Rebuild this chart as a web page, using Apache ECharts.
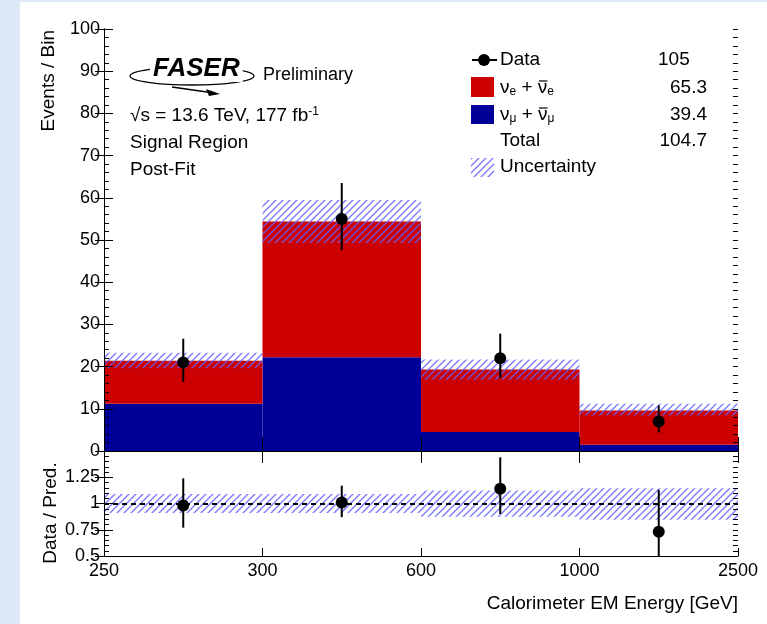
<!DOCTYPE html>
<html>
<head>
<meta charset="utf-8">
<script src="https://cdn.jsdelivr.net/npm/echarts@6/dist/echarts.min.js"></script>
<style>
  html, body { margin: 0; padding: 0; background: #dde9f6; }
  #panel { position: absolute; left: 20px; top: 2px; width: 747px; height: 622px; background: #fff; }
  #main { position: absolute; left: 0; top: 0; width: 767px; height: 624px; }
</style>
</head>
<body>
<div id="panel"></div>
<div id="main"></div>
<script>
// bin edges of the calorimeter energy histogram (GeV), equal-width on the plot
const binEdges = ['250', '300', '600', '1000', '2500'];

// stacked post-fit prediction per bin
const numuYield = [11.2, 22.2, 4.5, 1.5];
const nueYield = [10.2, 32.2, 14.8, 8.1];
// uncertainty band on the total
const uncLow = [19.6, 49.3, 16.9, 8.4];
const uncHigh = [23.3, 59.5, 21.7, 11.2];

// observed data with asymmetric poisson errors
const dataCounts = [21, 55, 22, 7];
const dataErrUp = [5.6, 8.5, 5.8, 3.8];
const dataErrDown = [4.6, 7.4, 4.7, 2.6];

// ratio panel
const ratio = [0.98, 1.01, 1.14, 0.73];
const ratioErrUp = [0.26, 0.16, 0.30, 0.40];
const ratioErrDown = [0.21, 0.14, 0.24, 0.27];
const ratioUncLow = [0.91, 0.91, 0.875, 0.845];
const ratioUncHigh = [1.09, 1.09, 1.125, 1.145];

// numbers printed in the legend
const legendYields = ['105', '65.3', '39.4', '104.7'];

const FONT = 'Liberation Sans, Arial, Helvetica, sans-serif';
const RED = '#cc0000';
const BLUE = '#000099';

// diagonal hatch used for the uncertainty band
function makeHatch() {
    const c = document.createElement('canvas');
    c.width = 7;
    c.height = 7;
    const ctx = c.getContext('2d');
    ctx.strokeStyle = 'rgba(100, 100, 255, 0.85)';
    ctx.lineWidth = 1.4;
    ctx.beginPath();
    ctx.moveTo(-1, 8); ctx.lineTo(8, -1);
    ctx.moveTo(-1, 1); ctx.lineTo(1, -1);
    ctx.moveTo(6, 8); ctx.lineTo(8, 6);
    ctx.stroke();
    return c;
}
const hatch = { image: makeHatch(), repeat: 'repeat' };

// rect spanning bin i from value(1) to value(2)
function binRect(fill) {
    return function (params, api) {
        const i = api.value(0);
        const p0 = api.coord([i, api.value(1)]);
        const p1 = api.coord([i + 1, api.value(2)]);
        return {
            type: 'rect',
            shape: { x: p0[0], y: p1[1], width: p1[0] - p0[0], height: p0[1] - p1[1] },
            style: { fill: fill }
        };
    };
}

// marker + vertical error bar, clamped to the grid
function errPoint(params, api) {
    const x = api.value(0) + 0.5;
    const val = api.value(1);
    const c = api.coord([x, val]);
    const cs = params.coordSys;
    const top = Math.max(api.coord([x, val + api.value(2)])[1], cs.y);
    const bot = Math.min(api.coord([x, val - api.value(3)])[1], cs.y + cs.height);
    return {
        type: 'group',
        children: [
            { type: 'line', shape: { x1: c[0], y1: top, x2: c[0], y2: bot }, style: { stroke: '#000', lineWidth: 2 } },
            { type: 'circle', shape: { cx: c[0], cy: c[1], r: 6 }, style: { fill: '#000' } }
        ]
    };
}

const axisLine = { show: true, lineStyle: { color: '#000', width: 1 } };

function xAx(grid, pos, tickLen, labels) {
    return {
        type: 'value', gridIndex: grid, position: pos, min: 0, max: 4, interval: 1, z: 10,
        axisLine: axisLine,
        axisTick: { inside: true, length: tickLen, lineStyle: { color: '#000' } },
        splitLine: { show: false },
        axisLabel: labels ? {
            show: true, color: '#000', fontSize: 18, fontFamily: FONT, margin: 6,
            formatter: (v) => binEdges[v]
        } : { show: false }
    };
}

function yAx(grid, pos, min, max, interval, tickLen, labels, fmt) {
    return {
        type: 'value', gridIndex: grid, position: pos, min: min, max: max, interval: interval, z: 10,
        axisLine: tickLen > 5 ? axisLine : { show: false },
        axisTick: { inside: true, length: tickLen, lineStyle: { color: '#000' } },
        splitLine: { show: false },
        axisLabel: labels ? {
            show: true, color: '#000', fontSize: 18, fontFamily: FONT, margin: 4, formatter: fmt
        } : { show: false }
    };
}

function txt(x, y, text, size, extra) {
    return Object.assign({
        type: 'text', x: x, y: y,
        style: Object.assign({
            text: text, fill: '#000', font: size + 'px ' + FONT,
            textAlign: 'left', textVerticalAlign: 'middle'
        }, extra && extra.style)
    }, extra && extra.el);
}

// width of a piece of text, used to put the bar over the anti-neutrino
const measureCtx = document.createElement('canvas').getContext('2d');
function textWidth(s, size) {
    measureCtx.font = size + 'px ' + FONT;
    return measureCtx.measureText(s).width;
}

const nuRich = {
    n: { fontSize: 19, fontFamily: FONT, color: '#000' },
    b: { fontSize: 12, fontFamily: FONT, color: '#000', verticalAlign: 'bottom', padding: [8, 0, 0, 0] }
};

function nuLabel(x, y, flavour) {
    const barX = x + textWidth('ν', 19) + textWidth(flavour, 12) + textWidth(' + ', 19);
    const barW = textWidth('ν', 19);
    return [
        txt(x, y, '{n|ν}{b|' + flavour + '}{n| + ν}{b|' + flavour + '}', 19, { style: { rich: nuRich } }),
        { type: 'line', shape: { x1: barX + 1, y1: y - 7, x2: barX + barW, y2: y - 7 }, style: { stroke: '#000', lineWidth: 1.2 } }
    ];
}

const chart = echarts.init(document.getElementById('main'), null, { renderer: 'canvas' });

const option = {
    animation: false,
    grid: [
        { left: 104, top: 29, width: 634, height: 422 },
        { left: 104, top: 451, width: 634, height: 105 }
    ],
    xAxis: [
        xAx(0, 'bottom', 14, false),
        xAx(0, 'top', 12, false),
        xAx(1, 'bottom', 8, true),
        xAx(1, 'top', 4, false)
    ],
    yAxis: [
        yAx(0, 'left', 0, 100, 10, 9, true),
        yAx(0, 'right', 0, 100, 10, 9, false),
        yAx(1, 'left', 0.5, 1.5, 0.25, 9, true, (v) => (v === 1.5 ? '' : String(v))),
        yAx(1, 'right', 0.5, 1.5, 0.25, 9, false),
        // minor ticks
        yAx(0, 'left', 0, 100, 2, 5, false),
        yAx(0, 'right', 0, 100, 2, 5, false),
        yAx(1, 'left', 0.5, 1.5, 0.05, 5, false),
        yAx(1, 'right', 0.5, 1.5, 0.05, 5, false)
    ],
    series: [
        {
            name: 'numu', type: 'custom', xAxisIndex: 0, yAxisIndex: 0,
            renderItem: binRect(BLUE),
            data: numuYield.map((v, i) => [i, 0, v])
        },
        {
            name: 'nue', type: 'custom', xAxisIndex: 0, yAxisIndex: 0,
            renderItem: binRect(RED),
            data: nueYield.map((v, i) => [i, numuYield[i], numuYield[i] + v])
        },
        {
            name: 'Uncertainty', type: 'custom', xAxisIndex: 0, yAxisIndex: 0,
            renderItem: binRect(hatch),
            data: uncLow.map((v, i) => [i, v, uncHigh[i]])
        },
        {
            name: 'Data', type: 'custom', xAxisIndex: 0, yAxisIndex: 0,
            renderItem: errPoint,
            data: dataCounts.map((v, i) => [i, v, dataErrUp[i], dataErrDown[i]])
        },
        {
            name: 'ratioUnc', type: 'custom', xAxisIndex: 2, yAxisIndex: 2,
            renderItem: binRect(hatch),
            data: ratioUncLow.map((v, i) => [i, v, ratioUncHigh[i]]),
            markLine: {
                silent: true, symbol: 'none', label: { show: false },
                lineStyle: { color: '#000', width: 2, type: [5, 4] },
                data: [{ yAxis: 1 }]
            }
        },
        {
            name: 'ratio', type: 'custom', xAxisIndex: 2, yAxisIndex: 2,
            renderItem: errPoint,
            data: ratio.map((v, i) => [i, v, ratioErrUp[i], ratioErrDown[i]])
        }
    ],
    graphic: [
        // FASER logo
        { type: 'ellipse', shape: { cx: 192, cy: 76, rx: 62, ry: 9 }, style: { fill: 'none', stroke: '#000', lineWidth: 1.3 } },
        txt(150, 69, 'FASER', 26, { style: { font: 'italic 900 26px ' + FONT, backgroundColor: '#fff', padding: [0, 3] } }),
        { type: 'polyline', shape: { points: [[172, 87], [214, 93]] }, style: { stroke: '#000', lineWidth: 1.5 } },
        { type: 'polygon', shape: { points: [[220, 94], [206, 89], [209, 96]] }, style: { fill: '#000' } },
        txt(263, 75, 'Preliminary', 18),
        txt(130, 116, '{t|√s = 13.6 TeV, 177 fb}{s|-1}', 19, {
            style: {
                rich: {
                    t: { fontSize: 19, fontFamily: FONT, color: '#000' },
                    s: { fontSize: 12, fontFamily: FONT, color: '#000', verticalAlign: 'top', padding: [0, 0, 8, 0] }
                }
            }
        }),
        txt(130, 143, 'Signal Region', 19),
        txt(130, 170, 'Post-Fit', 19),

        // legend
        { type: 'line', shape: { x1: 472, y1: 60, x2: 497, y2: 60 }, style: { stroke: '#000', lineWidth: 2 } },
        { type: 'circle', shape: { cx: 484, cy: 60, r: 6 }, style: { fill: '#000' } },
        txt(500, 60, 'Data', 19),
        txt(658, 60, legendYields[0], 19),
        { type: 'rect', shape: { x: 471, y: 77, width: 23, height: 20 }, style: { fill: RED } },
        ...nuLabel(500, 88, 'e'),
        txt(707, 88, legendYields[1], 19, { style: { textAlign: 'right' } }),
        { type: 'rect', shape: { x: 471, y: 105, width: 23, height: 19 }, style: { fill: BLUE } },
        ...nuLabel(500, 115, 'μ'),
        txt(707, 115, legendYields[2], 19, { style: { textAlign: 'right' } }),
        txt(500, 141, 'Total', 19),
        txt(707, 141, legendYields[3], 19, { style: { textAlign: 'right' } }),
        { type: 'rect', shape: { x: 471, y: 158, width: 23, height: 19 }, style: { fill: hatch } },
        txt(500, 167, 'Uncertainty', 19),

        // axis titles
        txt(49, 30, 'Events / Bin', 19, { style: { textAlign: 'right' }, el: { rotation: Math.PI / 2 } }),
        txt(51, 513, 'Data / Pred.', 19, { style: { textAlign: 'center' }, el: { rotation: Math.PI / 2 } }),
        txt(738, 604, 'Calorimeter EM Energy [GeV]', 19, { style: { textAlign: 'right' } })
    ]
};

chart.setOption(option);
window.addEventListener('resize', () => chart.resize());
</script>
</body>
</html>
